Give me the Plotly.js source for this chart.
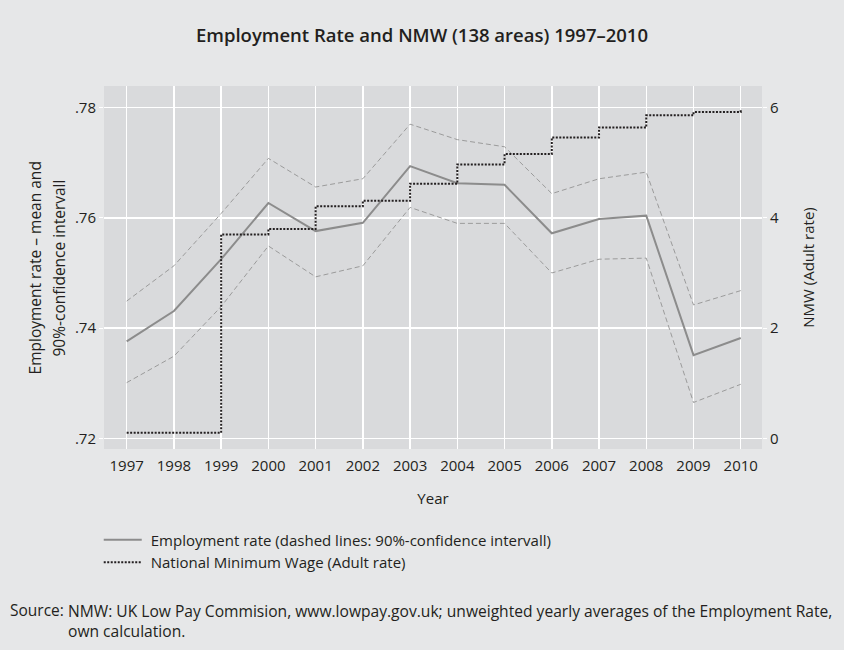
<!DOCTYPE html>
<html>
<head>
<meta charset="utf-8">
<script src="https://cdn.plot.ly/plotly-3.0.1.min.js"></script>
<style>html,body{margin:0;padding:0;background:#e6e7e8;}#chart{width:844px;height:650px;}</style>
</head>
<body>
<div id="chart"></div>
<script>
const years = [1997,1998,1999,2000,2001,2002,2003,2004,2005,2006,2007,2008,2009,2010];
const empMean  = [0.7376,0.7431,0.7525,0.7627,0.7576,0.7591,0.7694,0.7663,0.7660,0.7572,0.7598,0.7604,0.7351,0.7382];
const empUpper = [0.7449,0.7513,0.7608,0.7708,0.7656,0.7671,0.7770,0.7742,0.7729,0.7644,0.7671,0.7683,0.7442,0.7468];
const empLower = [0.7301,0.7349,0.7439,0.7549,0.7493,0.7513,0.7619,0.7590,0.7590,0.7500,0.7525,0.7527,0.7265,0.7298];
const nmw      = [0.10,0.10,3.70,3.80,4.21,4.31,4.62,4.97,5.16,5.46,5.64,5.86,5.92,5.98];
const yTickVals = [0.72,0.74,0.76,0.78];
const yTickText = [".72",".74",".76",".78"];
const y2TickVals = [0,2,4,6];
const y2TickText = ["0","2","4","6"];

const FONT = "Open Sans, Noto Sans, sans-serif";
const TXT = "#231f20";

const traces = [
  {x: years, y: empUpper, type: 'scatter', mode: 'lines', showlegend: false, hoverinfo: 'skip',
   line: {color: '#9b9b9b', width: 1, dash: '5px,3px'}},
  {x: years, y: empLower, type: 'scatter', mode: 'lines', showlegend: false, hoverinfo: 'skip',
   line: {color: '#9b9b9b', width: 1, dash: '5px,3px'}},
  {x: years, y: empMean, type: 'scatter', mode: 'lines', name: 'Employment rate (dashed lines: 90%-confidence intervall)',
   line: {color: '#8c8c8c', width: 2}},
  {x: years, y: nmw, type: 'scatter', mode: 'lines', yaxis: 'y2', name: 'National Minimum Wage (Adult rate)',
   line: {color: '#231f20', width: 2, dash: '2px,1.5px', shape: 'hv'}}
];

const layout = {
  width: 844, height: 650,
  paper_bgcolor: '#e6e7e8', plot_bgcolor: '#d9dadc',
  margin: {l: 104, r: 82, t: 86, b: 201},
  font: {family: FONT, size: 15, color: TXT},
  title: {text: 'Employment Rate and NMW (138 areas) 1997–2010', x: 0.5, xanchor: 'center', y: 0.946, yanchor: 'middle',
          font: {family: FONT, size: 18.5, weight: 600, color: TXT}},
  xaxis: {range: [1996.52, 2010.45], tickvals: years, ticktext: years.map(String), showgrid: true, gridcolor: '#ffffff', gridwidth: 1.5,
          zeroline: false, showline: false, ticks: '', ticklabelstandoff: 6, tickfont: {size: 15, color: TXT},
          title: {text: 'Year', font: {size: 15, color: TXT}, standoff: 19}},
  yaxis: {range: [0.71806, 0.78393], tickvals: yTickVals, ticktext: yTickText, showgrid: true, gridcolor: '#ffffff', gridwidth: 1.5,
          zeroline: false, showline: false, ticks: 'outside', ticklen: 4, tickcolor: '#ffffff', tickfont: {size: 15, color: TXT},
          title: {text: ''}},
  yaxis2: {range: [-0.194, 6.393], overlaying: 'y', side: 'right', tickvals: y2TickVals, ticktext: y2TickText, showgrid: false,
           zeroline: false, showline: false, ticks: 'outside', ticklen: 4, tickcolor: '#ffffff', tickfont: {size: 15, color: TXT},
           title: {text: 'NMW (Adult rate)', font: {size: 15, color: TXT}, standoff: 25}},
  legend: {x: -0.008, xanchor: 'left', y: -0.205, yanchor: 'top', orientation: 'v', bgcolor: 'rgba(0,0,0,0)',
           font: {size: 15, color: TXT}, itemwidth: 30, tracegroupgap: 0},
  annotations: [
    {xref: 'paper', yref: 'paper', x: -0.1049, y: 0.5, xanchor: 'center', yanchor: 'middle', showarrow: false, textangle: -90,
     text: 'Employment rate – mean and', font: {size: 15.5, color: TXT}},
    {xref: 'paper', yref: 'paper', x: -0.0684, y: 0.5, xanchor: 'center', yanchor: 'middle', showarrow: false, textangle: -90,
     text: '90%-confidence intervall', font: {size: 15.5, color: TXT}},
    {xref: 'paper', yref: 'paper', x: -0.1459, y: -0.4435, xanchor: 'left', yanchor: 'middle', showarrow: false,
     text: 'Source:', font: {size: 15.5, color: TXT}},
    {xref: 'paper', yref: 'paper', x: -0.0578, y: -0.4735, xanchor: 'left', yanchor: 'middle', showarrow: false, align: 'left',
     text: 'NMW: UK Low Pay Commision, www.lowpay.gov.uk; unweighted yearly averages of the Employment Rate,<br>own calculation.',
     font: {size: 15.6, color: TXT}}
  ]
};

Plotly.newPlot('chart', traces, layout, {displayModeBar: false, staticPlot: true}).then(function(gd) {
  // lengthen legend line samples to match the reference, and let the text overflow the default box
  document.querySelectorAll('.legend .scrollbox').forEach(function(s) { s.removeAttribute('clip-path'); });
  document.querySelectorAll('.legend .traces').forEach(function(tr) {
    tr.querySelectorAll('path.js-line').forEach(function(p) { p.setAttribute('d', 'M5,0h38'); });
    tr.querySelectorAll('text.legendtext').forEach(function(t) { t.setAttribute('x', '52'); });
  });
});
</script>
</body>
</html>
